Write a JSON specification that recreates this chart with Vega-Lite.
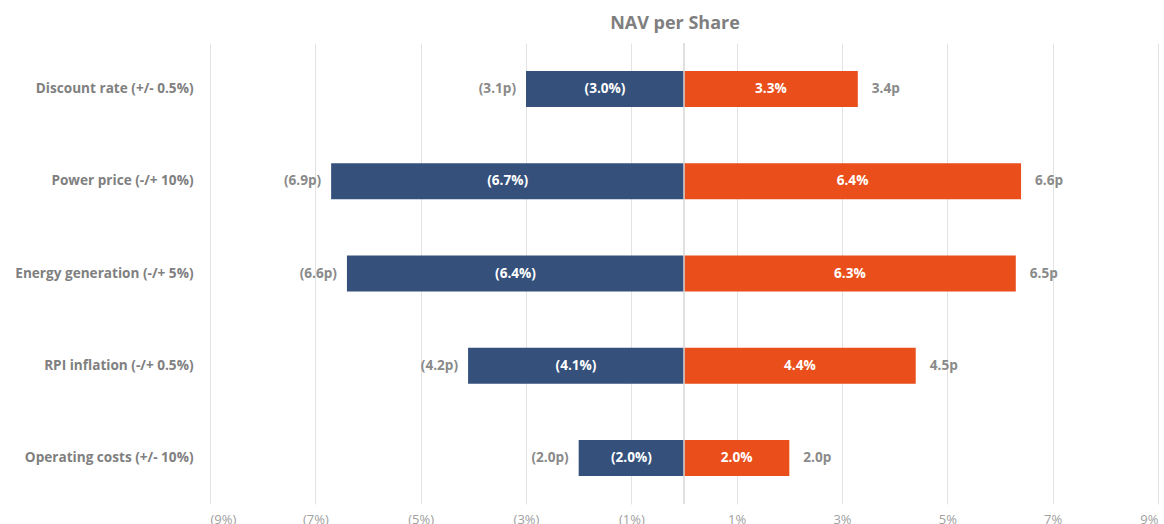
{
  "$schema": "https://vega.github.io/schema/vega-lite/v6.json",
  "autosize": "none",
  "padding": {"left": 210, "top": 43, "right": 6, "bottom": 20},
  "width": 948,
  "height": 461,
  "background": "white",
  "title": {"text": "NAV per Share", "fontSize": 18, "fontWeight": "bold", "color": "#7f7f7f", "font": "Open Sans", "anchor": "middle", "offset": 9, "dx": -9},
  "config": {"view": {"stroke": null}, "font": "Open Sans"},
  "data": {"values": [
    {"cat": "Discount rate (+/- 0.5%)", "side": "neg", "value": -3.0, "pct": "(3.0%)", "pence": "(3.1p)"},
    {"cat": "Discount rate (+/- 0.5%)", "side": "pos", "value": 3.3, "pct": "3.3%", "pence": "3.4p"},
    {"cat": "Power price (-/+ 10%)", "side": "neg", "value": -6.7, "pct": "(6.7%)", "pence": "(6.9p)"},
    {"cat": "Power price (-/+ 10%)", "side": "pos", "value": 6.4, "pct": "6.4%", "pence": "6.6p"},
    {"cat": "Energy generation (-/+ 5%)", "side": "neg", "value": -6.4, "pct": "(6.4%)", "pence": "(6.6p)"},
    {"cat": "Energy generation (-/+ 5%)", "side": "pos", "value": 6.3, "pct": "6.3%", "pence": "6.5p"},
    {"cat": "RPI inflation (-/+ 0.5%)", "side": "neg", "value": -4.1, "pct": "(4.1%)", "pence": "(4.2p)"},
    {"cat": "RPI inflation (-/+ 0.5%)", "side": "pos", "value": 4.4, "pct": "4.4%", "pence": "4.5p"},
    {"cat": "Operating costs (+/- 10%)", "side": "neg", "value": -2.0, "pct": "(2.0%)", "pence": "(2.0p)"},
    {"cat": "Operating costs (+/- 10%)", "side": "pos", "value": 2.0, "pct": "2.0%", "pence": "2.0p"}
  ]},
  "encoding": {
    "y": {"field": "cat", "type": "nominal", "sort": null,
      "scale": {"paddingInner": 0.61, "paddingOuter": 0.305},
      "axis": {"title": null, "domain": false, "ticks": false, "labelPadding": 17, "labelFontSize": 13.6, "labelFontWeight": "bold", "labelColor": "#808080", "labelFont": "Open Sans"}
    }
  },
  "layer": [
    {
      "mark": {"type": "bar"},
      "encoding": {
        "x": {"field": "value", "type": "quantitative",
          "scale": {"domain": [-9, 9], "nice": false, "zero": false},
          "axis": {"title": null, "values": [-9, -7, -5, -3, -1, 1, 3, 5, 7, 9], "grid": true, "gridColor": "#e3e3e3", "gridWidth": 1, "domain": false, "ticks": false, "labelPadding": 9, "labelFontSize": 13, "labelColor": "#a0a0a0", "labelFont": "Open Sans",
            "labelExpr": "datum.value < 0 ? '(' + abs(datum.value) + '%)' : datum.value + '%'"}
        },
        "color": {"field": "side", "type": "nominal", "scale": {"domain": ["neg", "pos"], "range": ["#34507b", "#e94e1b"]}, "legend": null}
      }
    },
    {
      "mark": {"type": "rule", "color": "#d6d6d6", "strokeWidth": 1.5},
      "data": {"values": [{"zero": 0}]},
      "encoding": {"x": {"field": "zero", "type": "quantitative"}, "y": null}
    },
    {
      "mark": {"type": "text", "color": "white", "fontWeight": "bold", "fontSize": 13.6, "font": "Open Sans"},
      "encoding": {
        "x": {"field": "mid", "type": "quantitative"},
        "text": {"field": "pct"}
      },
      "transform": [{"calculate": "datum.value / 2", "as": "mid"}]
    },
    {
      "transform": [{"filter": "datum.side == 'neg'"}],
      "mark": {"type": "text", "color": "#8a8a8a", "fontWeight": "bold", "fontSize": 13.6, "font": "Open Sans", "align": "right", "dx": -10},
      "encoding": {
        "x": {"field": "value", "type": "quantitative"},
        "text": {"field": "pence"}
      }
    },
    {
      "transform": [{"filter": "datum.side == 'pos'"}],
      "mark": {"type": "text", "color": "#8a8a8a", "fontWeight": "bold", "fontSize": 13.6, "font": "Open Sans", "align": "left", "dx": 14},
      "encoding": {
        "x": {"field": "value", "type": "quantitative"},
        "text": {"field": "pence"}
      }
    }
  ]
}
